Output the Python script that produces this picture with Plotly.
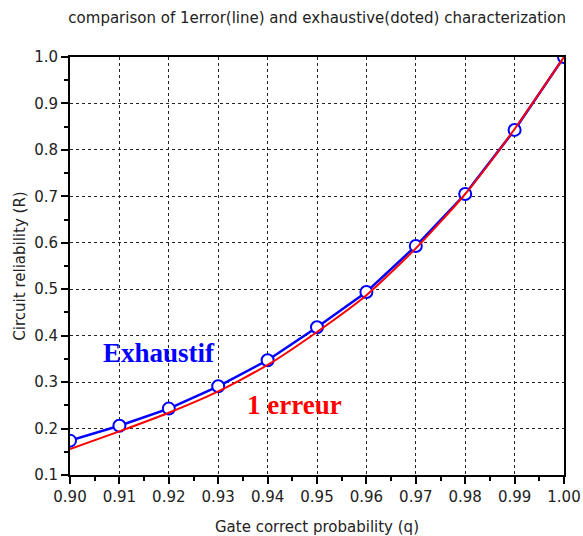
import plotly.graph_objects as go

q = [0.90, 0.91, 0.92, 0.93, 0.94, 0.95, 0.96, 0.97, 0.98, 0.99, 1.00]
r_exhaustif = [0.174, 0.206, 0.243, 0.291, 0.347, 0.418, 0.494, 0.593, 0.705, 0.843, 1.0]
r_1erreur = [0.156, 0.194, 0.234, 0.280, 0.337, 0.408, 0.487, 0.588, 0.705, 0.845, 1.0]

x_ticks = [0.90, 0.91, 0.92, 0.93, 0.94, 0.95, 0.96, 0.97, 0.98, 0.99, 1.00]
y_ticks = [0.1, 0.2, 0.3, 0.4, 0.5, 0.6, 0.7, 0.8, 0.9, 1.0]

fig = go.Figure()
fig.add_trace(go.Scatter(
    x=q, y=r_exhaustif, mode="lines",
    line=dict(color="#0000ff", width=2.5),
    cliponaxis=True, showlegend=False))
fig.add_trace(go.Scatter(
    x=q, y=r_exhaustif, mode="markers",
    marker=dict(symbol="circle", size=12, color="white", line=dict(width=2, color="#0000ff")),
    cliponaxis=True, showlegend=False))
fig.add_trace(go.Scatter(
    x=q, y=r_1erreur, mode="lines",
    line=dict(color="#ff0000", width=2, shape="spline", smoothing=0.6),
    cliponaxis=True, showlegend=False))

fig.add_annotation(x=0.918, y=0.3627, text="<b>Exhaustif</b>", showarrow=False,
                   font=dict(family="Liberation Serif", size=27, color="#0000ff"))
fig.add_annotation(x=0.94535, y=0.2507, text="<b>1 erreur</b>", showarrow=False,
                   font=dict(family="Liberation Serif", size=27, color="#ff0000"))

fig.update_layout(
    width=583, height=536,
    margin=dict(l=70, r=19, t=57, b=61, autoexpand=False),
    paper_bgcolor="white", plot_bgcolor="white",
    font=dict(family="DejaVu Sans", size=15, color="#222222"),
    title=dict(text="comparison of 1error(line) and exhaustive(doted) characterization",
               x=0.544, xanchor="center", y=0.966, yanchor="middle",
               font=dict(family="DejaVu Sans", size=15, color="#222222")),
)
fig.update_xaxes(
    range=[0.90, 1.00], tickvals=x_ticks, ticktext=[f"{v:.2f}" for v in x_ticks],
    showgrid=True, gridcolor="#222222", griddash="dot", gridwidth=1,
    showline=True, linecolor="black", linewidth=2, mirror=True,
    ticks="outside", ticklen=7, tickwidth=1.5, tickcolor="black",
    minor=dict(dtick=0.005, ticks="outside", ticklen=4, tickwidth=1.5, tickcolor="black", showgrid=False),
    zeroline=False, automargin=False,
    title=dict(text="Gate correct probability (q)", font=dict(size=15), standoff=18),
)
fig.update_yaxes(
    range=[0.1, 1.0], tickvals=y_ticks, ticktext=[f"{v:.1f}" for v in y_ticks],
    showgrid=True, gridcolor="#222222", griddash="dot", gridwidth=1,
    showline=True, linecolor="black", linewidth=2, mirror=True,
    ticks="outside", ticklen=7, tickwidth=1.5, tickcolor="black",
    minor=dict(dtick=0.05, ticks="outside", ticklen=4, tickwidth=1.5, tickcolor="black", showgrid=False),
    zeroline=False, automargin=False,
    title=dict(text="Circuit reliability (R)", font=dict(size=15), standoff=5),
)

fig.write_html("out.html")
